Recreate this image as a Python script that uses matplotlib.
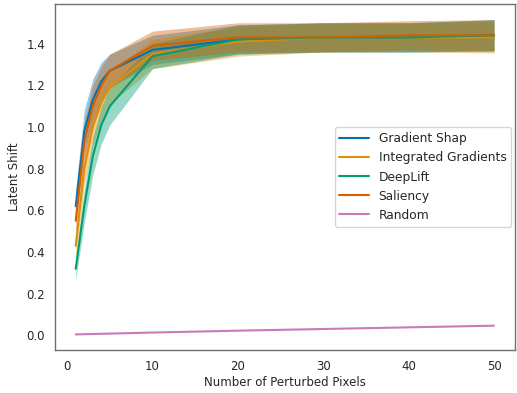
import numpy as np
import matplotlib
matplotlib.use("Agg")
import matplotlib.pyplot as plt
import seaborn as sns

sns.set_theme(style="white", palette="colorblind")
plt.rcParams['font.family'] = ['DejaVu Sans']

# number of perturbed pixels
pixels = [1, 2, 3, 4, 5, 10, 20, 30, 40, 50]

# mean latent shift per method
grad_shap = [0.62, 0.98, 1.13, 1.22, 1.27, 1.37, 1.42, 1.43, 1.43, 1.44]
integrated = [0.43, 0.80, 1.00, 1.12, 1.19, 1.35, 1.41, 1.43, 1.43, 1.43]
deeplift = [0.32, 0.62, 0.86, 1.01, 1.10, 1.34, 1.42, 1.43, 1.43, 1.44]
saliency = [0.55, 0.93, 1.10, 1.20, 1.27, 1.39, 1.43, 1.43, 1.44, 1.44]
random_ = [0.005, 0.006, 0.007, 0.008, 0.009, 0.014, 0.023, 0.031, 0.039, 0.047]

# spread (std) per method
grad_shap_sd = [0.08, 0.10, 0.10, 0.09, 0.08, 0.07, 0.07, 0.07, 0.07, 0.075]
integrated_sd = [0.06, 0.08, 0.09, 0.09, 0.08, 0.07, 0.07, 0.07, 0.07, 0.075]
deeplift_sd = [0.05, 0.08, 0.09, 0.09, 0.09, 0.06, 0.07, 0.07, 0.07, 0.075]
saliency_sd = [0.07, 0.09, 0.10, 0.09, 0.08, 0.07, 0.07, 0.07, 0.07, 0.075]

series = [
    ("Gradient Shap", grad_shap, grad_shap_sd),
    ("Integrated Gradients", integrated, integrated_sd),
    ("DeepLift", deeplift, deeplift_sd),
    ("Saliency", saliency, saliency_sd),
    ("Random", random_, None),
]

fig = plt.figure(figsize=(5.17, 3.93), dpi=100)
ax = fig.add_axes([0.106, 0.109, 0.890, 0.881])
x = np.array(pixels)
for name, m, sd in series:
    m = np.array(m)
    line, = ax.plot(x, m, label=name, lw=1.5)
    if sd is not None:
        sd = np.array(sd)
        ax.fill_between(x, m - sd, m + sd, color=line.get_color(), alpha=0.4, lw=0)

for s in ax.spines.values():
    s.set_color("#707070")
    s.set_linewidth(1.0)

ax.set_xlabel("Number of Perturbed Pixels", fontsize=8.5, labelpad=2)
ax.set_ylabel("Latent Shift", fontsize=8.5, labelpad=4)
ax.tick_params(labelsize=8.5, pad=1)
ax.legend(loc="center right", fontsize=8.8, handlelength=2.4, borderaxespad=0.3)
fig.savefig("out.png", dpi=100)
